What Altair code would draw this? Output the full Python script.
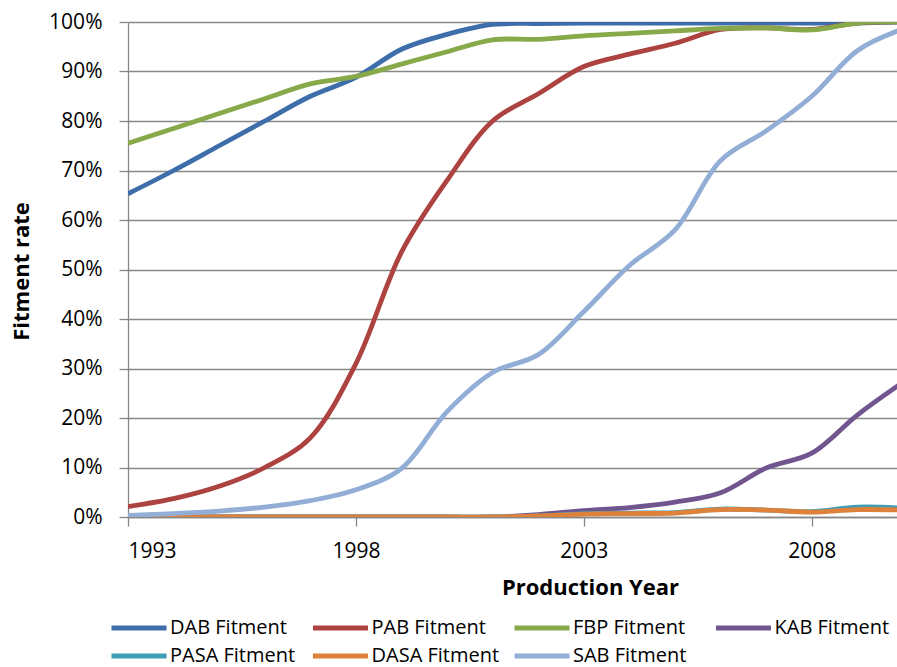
import altair as alt
import pandas as pd

# Model years on the category axis
years = list(range(1993, 2011))

# Fitment rates (share of vehicles) per model year
dab = [0.653, 0.700, 0.750, 0.800, 0.850, 0.888, 0.945, 0.975, 0.995, 0.997, 0.998, 0.998, 0.998, 0.998, 0.998, 0.998, 0.998, 1.000]
pab = [0.021, 0.037, 0.062, 0.100, 0.160, 0.310, 0.535, 0.680, 0.800, 0.855, 0.910, 0.935, 0.957, 0.985, 0.988, 0.985, 0.998, 1.000]
fbp = [0.755, 0.785, 0.815, 0.845, 0.875, 0.890, 0.915, 0.940, 0.964, 0.965, 0.972, 0.977, 0.982, 0.987, 0.988, 0.984, 0.998, 1.000]
kab = [0.000, 0.000, 0.000, 0.000, 0.000, 0.000, 0.000, 0.000, 0.000, 0.005, 0.013, 0.019, 0.030, 0.049, 0.099, 0.129, 0.206, 0.272]
pasa = [0.000, 0.000, 0.000, 0.000, 0.000, 0.000, 0.000, 0.000, 0.000, 0.002, 0.007, 0.008, 0.009, 0.016, 0.014, 0.011, 0.020, 0.018]
dasa = [0.000, 0.000, 0.000, 0.000, 0.000, 0.000, 0.000, 0.000, 0.000, 0.002, 0.006, 0.007, 0.008, 0.015, 0.014, 0.010, 0.015, 0.014]
sab = [0.003, 0.007, 0.012, 0.020, 0.033, 0.055, 0.098, 0.213, 0.292, 0.328, 0.415, 0.508, 0.580, 0.720, 0.780, 0.850, 0.942, 0.986]

series_names = ["DAB Fitment", "PAB Fitment", "FBP Fitment", "KAB Fitment",
                "PASA Fitment", "DASA Fitment", "SAB Fitment"]
series_values = [dab, pab, fbp, kab, pasa, dasa, sab]
series_colors = ["#3D6EAA", "#AD4340", "#87A94A", "#71558F", "#3F9DB4", "#DE823B", "#92AED6"]

rows = []
for name, vals in zip(series_names, series_values):
    for yr, v in zip(years, vals):
        rows.append({"year": yr, "rate": v, "series": name})
df = pd.DataFrame(rows)

FONT = "Open Sans"

x_enc = alt.X(
    "year:Q",
    scale=alt.Scale(domain=[1993, 2009.87], nice=False, zero=False),
    axis=alt.Axis(
        title="Production Year",
        values=[1993, 1998, 2003, 2008],
        format="d",
        grid=False,
        tickColor="#878787",
        tickSize=9,
        tickWidth=1.3,
        domainColor="#878787",
        domainWidth=1.3,
        labelFontSize=21,
        labelColor="#000000",
        labelPadding=14,
        labelFont=FONT,
        titleFont=FONT,
        titleFontSize=22,
        titleFontWeight="bold",
        titleColor="#000000",
        titleX=462,
        titleY=70,
        titleBaseline="middle",
    ),
)
y_enc = alt.Y(
    "rate:Q",
    scale=alt.Scale(domain=[0, 1], nice=False),
    axis=alt.Axis(
        title="Fitment rate",
        values=[i / 10 for i in range(11)],
        format=".0%",
        gridColor="#878787",
        gridWidth=1.3,
        tickColor="#878787",
        tickSize=9,
        tickWidth=1.3,
        domainColor="#878787",
        domainWidth=1.3,
        labelFontSize=21,
        labelColor="#000000",
        labelPadding=17,
        labelFont=FONT,
        titleFont=FONT,
        titleFontSize=22,
        titleFontWeight="bold",
        titleColor="#000000",
        titleX=-107,
        titleY=249,
        titleBaseline="middle",
    ),
)
color_enc = alt.Color(
    "series:N",
    scale=alt.Scale(domain=series_names, range=series_colors),
    legend=alt.Legend(
        title=None,
        orient="none",
        legendX=1,
        legendY=596,
        direction="horizontal",
        columns=4,
        gridAlign="all",
        symbolType="M-3.93,0H3.93",
        symbolSize=196,
        symbolStrokeWidth=5,
        labelFont=FONT,
        labelFontSize=20,
        labelColor="#000000",
        labelOffset=21,
        columnPadding=4.5,
        rowPadding=8,
        labelLimit=0,
    ),
)

# One layer per series so that later series are drawn on top
layers = []
for name in series_names:
    layers.append(
        alt.Chart(df)
        .transform_filter(alt.datum.series == name)
        .mark_line(interpolate="catmull-rom", strokeWidth=4.8, clip=True)
        .encode(x=x_enc, y=y_enc, color=color_enc)
    )

chart = (
    alt.layer(*layers)
    .properties(
        width=769,
        height=495,
        autosize=alt.AutoSizeParams(type="none"),
        padding={"left": 128, "top": 22, "right": 0, "bottom": 150},
    )
    .configure_view(stroke=None)
    .configure(background="#ffffff")
)

chart.save("out.html", embed_options={"renderer": "svg", "actions": False})
